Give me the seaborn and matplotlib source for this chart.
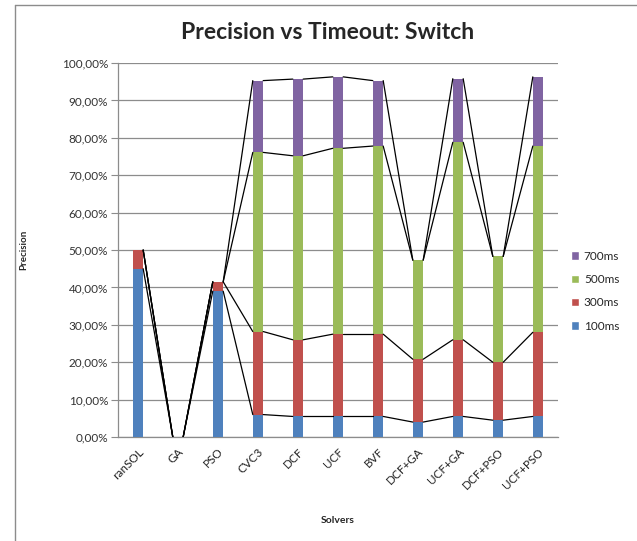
import numpy as np
import pandas as pd
import matplotlib
matplotlib.use("Agg")
import matplotlib.pyplot as plt
from matplotlib.lines import Line2D
from matplotlib.patches import Patch
from matplotlib.ticker import FuncFormatter
import seaborn as sns

solvers = ["ranSOL", "GA", "PSO", "CVC3", "DCF", "UCF", "BVF",
           "DCF+GA", "UCF+GA", "DCF+PSO", "UCF+PSO"]
series = ["100ms", "300ms", "500ms", "700ms"]

# precision gained at each timeout (stacked increments, %)
p100 = [45.0, 0.0, 39.0, 6.0, 5.5, 5.5, 5.5, 4.0, 5.5, 4.5, 5.5]
p300 = [5.0, 0.0, 2.5, 22.2, 20.5, 22.0, 22.0, 16.8, 20.5, 15.5, 22.5]
p500 = [0.0, 0.0, 0.0, 47.9, 49.2, 49.7, 50.3, 26.5, 52.8, 28.3, 49.8]
p700 = [0.0, 0.0, 0.0, 19.2, 20.5, 19.1, 17.5, 0.0, 17.0, 0.0, 18.5]

colors = {"100ms": "#4F81BD", "300ms": "#C0504D",
          "500ms": "#9BBB59", "700ms": "#8064A2"}

df = pd.DataFrame({"Solver": solvers, "100ms": p100, "300ms": p300,
                   "500ms": p500, "700ms": p700})
cum = df[series].cumsum(axis=1)

sns.set_style("white")
plt.rcParams["font.family"] = ["Lato", "DejaVu Sans"]

fig = plt.figure(figsize=(6.37, 5.41), dpi=100)
ax = fig.add_axes([0.1852, 0.1922, 0.6908, 0.6913])

bar_w = 0.26
# draw cumulative totals from the top series down so each segment shows
for s in reversed(series):
    sns.barplot(x=df["Solver"], y=cum[s], color=colors[s], width=bar_w,
                saturation=1, linewidth=0, ax=ax, zorder=3)

# series lines between the tops of segments of neighbouring bars
for s in series:
    vals = cum[s].values
    for i in range(len(solvers) - 1):
        ax.plot([i + bar_w / 2, i + 1 - bar_w / 2], [vals[i], vals[i + 1]],
                color="black", lw=0.9, zorder=4)

ax.set_xlim(-0.5, len(solvers) - 0.5)
ax.set_ylim(0, 100)
ax.set_yticks(np.arange(0, 101, 10))
ax.yaxis.set_major_formatter(FuncFormatter(lambda v, p: f"{v:.2f}%".replace(".", ",")))
ax.grid(axis="y", color="#8c8c8c", lw=0.9, zorder=0)
ax.set_axisbelow(True)

for sp in ["top", "right"]:
    ax.spines[sp].set_visible(False)
for sp in ["left", "bottom"]:
    ax.spines[sp].set_color("#8c8c8c")
    ax.spines[sp].set_linewidth(0.9)

ax.tick_params(axis="y", left=True, length=5, color="#8c8c8c",
               labelsize=8.5, labelcolor="#333333", pad=2)
ax.tick_params(axis="x", bottom=False, labelsize=8.5, labelcolor="#222222", pad=3)
plt.setp(ax.get_xticklabels(), rotation=45, ha="right", rotation_mode="anchor")

ax.set_xlabel("Solvers", fontsize=7.5, fontweight="bold", labelpad=18)
ax.set_ylabel("Precision", fontsize=7, fontweight="bold", labelpad=24)
fig.text(0.515, 0.94, "Precision vs Timeout: Switch", ha="center", va="center",
         fontsize=16.5, fontweight="bold")

handles = [Patch(facecolor=colors[s], label=s) for s in reversed(series)]
ax.legend(handles=handles, loc="center left", bbox_to_anchor=(1.005, 0.39),
          frameon=False, fontsize=8.5, handlelength=0.7, handleheight=0.7,
          handletextpad=0.4, labelspacing=1.05)

# chart-area border (top and left only, as in the screenshot)
fig.add_artist(Line2D([15 / 637, 1], [1 - 5 / 541, 1 - 5 / 541],
                      transform=fig.transFigure, color="#8c8c8c", lw=1))
fig.add_artist(Line2D([15 / 637, 15 / 637], [0, 1 - 5 / 541],
                      transform=fig.transFigure, color="#8c8c8c", lw=1))

fig.savefig("out.png", dpi=100)
